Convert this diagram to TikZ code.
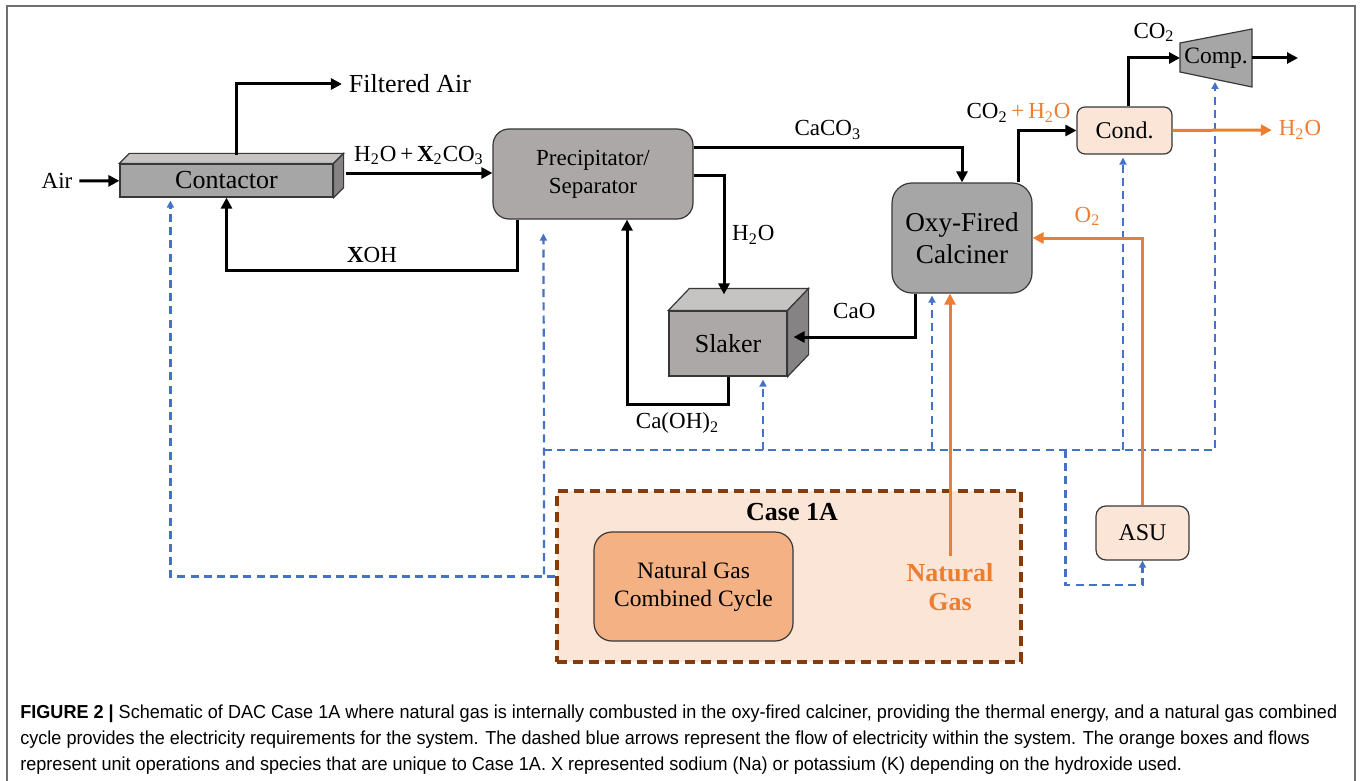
\documentclass[tikz,border=0pt]{standalone}
\usepackage{fontspec}
\setmainfont{Liberation Serif}
\newfontfamily\capfont[FakeStretch=0.96]{Liberation Sans}
\usetikzlibrary{arrows.meta,calc}

\definecolor{unitgray}{HTML}{A6A6A6}
\definecolor{sepgray}{HTML}{ACA8A8}
\definecolor{topgray}{HTML}{C6C3C3}
\definecolor{sidegray}{HTML}{858383}
\definecolor{peach}{HTML}{FBE5D6}
\definecolor{ngccfill}{HTML}{F4B183}
\definecolor{ngorange}{HTML}{ED7D31}
\definecolor{casebrown}{HTML}{843C0C}
\definecolor{elecblue}{HTML}{4472C4}
\definecolor{framegray}{HTML}{707070}

\begin{document}
\begin{tikzpicture}[x=0.5pt, y=-0.5pt, >={Triangle[length=5.5pt,width=5.5pt]}, line join=miter]
	\useasboundingbox (0,0) rectangle (1360,781);

	\tikzstyle{unit} = [draw=black!78, line width=0.6pt, fill=unitgray, rounded corners=8pt, align=center, inner sep=0pt];
	\tikzstyle{block} = [draw=black!78, line width=0.6pt, fill=unitgray, inner sep=0pt];
	\tikzstyle{face} = [draw=black!78, line width=0.6pt];
	\tikzstyle{newunit} = [unit, fill=peach];
	\tikzstyle{stream} = [->, line width=1.5pt, black];
	\tikzstyle{ngstream} = [->, line width=1.5pt, ngorange];
	\tikzstyle{power} = [-{Triangle[length=3.5pt,width=3.5pt]}, line width=1.1pt, elecblue, dash pattern=on 4pt off 2.6pt];
	\tikzstyle{lbl} = [font=\fontsize{11.5}{13}\selectfont];

	\draw[framegray, line width=1pt] (7,800) |- (1355,6) -- (1355,800);

	% case 1A area
	\node[draw=casebrown, line width=2pt, dash pattern=on 5pt off 3pt, fill=peach, minimum width=232pt, minimum height=85.5pt] at (789,576.5) (case) {};
	\node[font=\bfseries\fontsize{13}{15}\selectfont] at (792,512) (casetitle) {Case 1A};
	\node[unit, fill=ngccfill, minimum width=99.5pt, minimum height=54.5pt, rounded corners=9pt, font=\fontsize{11.75}{14}\selectfont] at (693.5,586.5) (ngcc) {Natural Gas\\Combined Cycle};
	\node[ngorange, align=center, font=\bfseries\fontsize{13}{14.5}\selectfont] at (950,587) (ng) {Natural\\Gas};

	% units
	\node[block, minimum width=106.5pt, minimum height=16.5pt, font=\fontsize{13}{15}\selectfont] at (226.5,180.5) (contactor) {Contactor};
	\draw[face, fill=topgray] (contactor.north west) -- ++(10,-10) -- ($(contactor.north east)+(10,-10)$) -- (contactor.north east) -- cycle;
	\draw[face, fill=sidegray] (contactor.north east) -- ++(10,-10) -- ($(contactor.south east)+(10,-10)$) -- (contactor.south east) -- cycle;

	\node[unit, fill=sepgray, minimum width=100pt, minimum height=45pt, font=\fontsize{11.5}{14}\selectfont] at (593,174) (precip) {Precipitator/\\Separator};

	\node[block, fill=sepgray, minimum width=59pt, minimum height=32.5pt, font=\fontsize{13}{15}\selectfont] at (728,343.5) (slaker) {Slaker};
	\draw[face, fill=topgray] (slaker.north west) -- ++(21,-22) -- ($(slaker.north east)+(21,-22)$) -- (slaker.north east) -- cycle;
	\draw[face, fill=sidegray] (slaker.north east) -- ++(21,-22) -- ($(slaker.south east)+(21,-22)$) -- (slaker.south east) -- cycle;

	\node[unit, minimum width=70pt, minimum height=55pt, rounded corners=10pt, font=\fontsize{13.6}{16}\selectfont] at (962,238) (calciner) {Oxy-Fired\\Calciner};

	\node[newunit, minimum width=47.5pt, minimum height=23.5pt, rounded corners=4pt, font=\fontsize{12}{14}\selectfont] at (1124.5,130.5) (cond) {Cond.};

	\coordinate (compc) at (1216,58);
	\draw[face, fill=unitgray] ($(compc)+(-36,-15)$) -- ($(compc)+(36,-29)$) -- ($(compc)+(36,29)$) -- ($(compc)+(-36,14)$) -- cycle;
	\node[font=\fontsize{11.75}{14}\selectfont] at (compc) (comp) {Comp.};
	\coordinate (compin) at ($(compc)+(-36,0)$);
	\coordinate (compout) at ($(compc)+(36,0)$);

	\node[newunit, minimum width=46.5pt, minimum height=27pt, rounded corners=5pt, font=\fontsize{12}{14}\selectfont] at (1142.5,533) (asu) {ASU};

	% free ends
	\node[lbl] at (57,181) (air) {Air};
	\node[font=\fontsize{13}{15}\selectfont] at (410,84) (filtered) {Filtered Air};
	\node[lbl, ngorange] at (1300,130) (h2oout) {H\textsubscript{2}O};
	\coordinate (co2out) at (1298,58);

	% electricity
	\coordinate (bus) at (544,450);
	\coordinate (slkin) at ($(slaker.south)+(35,3)$);
	\coordinate (calin) at ($(calciner.south)+(-30,2)$);
	\coordinate (condin) at ($(cond.south)+(-1.5,3)$);
	\coordinate (asutap) at ($(asu.south west |- bus)+(-30,0)$);
	\draw[power] (case.west) -| (bus) -- ($(precip.south west)+(51,14)$);
	\draw[power] (case.west) -| ($(contactor.south west)+(51,3)$);
	\draw[power] (bus) -| ($(compin)+(35,24)$);
	\draw[power] (slkin |- bus) -- (slkin);
	\draw[power] (calin |- bus) -- (calin);
	\draw[power] (condin |- bus) -- (condin);
	\draw[power] (asutap) -- ++(0,135) -| (asu.south);

	% material streams
	\draw[stream] (air) -- (contactor);
	\draw[stream] ($(contactor.north)+(9.5,-8)$) |- (filtered);
	\draw[stream] ($(contactor.east |- precip.west)+(12,-1)$) -- node[midway, above, lbl] {H\textsubscript{2}O\,+\,\textbf{X}\textsubscript{2}CO\textsubscript{3}} ($(precip.west)+(0,-1)$);
	\draw[stream] ($(precip.south west)+(25,0)$) -- ++(0,51) -| node[pos=0.25, above, lbl] {\textbf{X}OH} (contactor.south);
	\draw[stream] ($(precip.north east)+(0,19)$) -| node[pos=0.25, above, lbl] {CaCO\textsubscript{3}} (calciner.north);
	\draw[stream] ($(precip.east)+(0,1)$) -| node[pos=0.75, right, lbl] {H\textsubscript{2}O} ($(slaker.north)+(-4,-16)$);
	\draw[stream] ($(calciner.south)+(-47,0)$) |- node[pos=0.75, above=5pt, lbl] {CaO} ($(slaker.east)+(6,-6.5)$);
	\draw[stream] (slaker.south) -- ++(0,28) -| node[pos=0.25, below, lbl] {Ca(OH)\textsubscript{2}} ($(precip.south)+(34,0)$);
	\draw[stream] ($(calciner.north east)+(-14,0)$) |- node[pos=0.5, above, lbl] {CO\textsubscript{2}\,\textcolor{ngorange}{+\,H\textsubscript{2}O}} (cond);
	\draw[stream] ($(cond.north)+(3.5,0)$) |- node[pos=0.75, above=4pt, lbl] {CO\textsubscript{2}} (compin);
	\draw[stream] (compout) -- (co2out);

	\draw[ngstream] (cond) -- (h2oout);
	\draw[ngstream] (asu.north) |- node[pos=0.75, above=2pt, lbl] {O\textsubscript{2}} (calciner.east);
	\draw[ngstream] (ng.north) -- (calciner.south -| ng.north);

	\node[anchor=north west, align=left, inner sep=0pt, font=\capfont\fontsize{9.4}{13}\selectfont] at (20,704) (caption) {\textbf{FIGURE 2 \textbar} Schematic of DAC Case 1A where natural gas is internally combusted in the oxy-fired calciner, providing the thermal energy, and a natural gas combined\\cycle provides the electricity requirements for the system. The dashed blue arrows represent the flow of electricity within the system. The orange boxes and flows\\represent unit operations and species that are unique to Case 1A. X represented sodium (Na) or potassium (K) depending on the hydroxide used.};
\end{tikzpicture}
\end{document}
